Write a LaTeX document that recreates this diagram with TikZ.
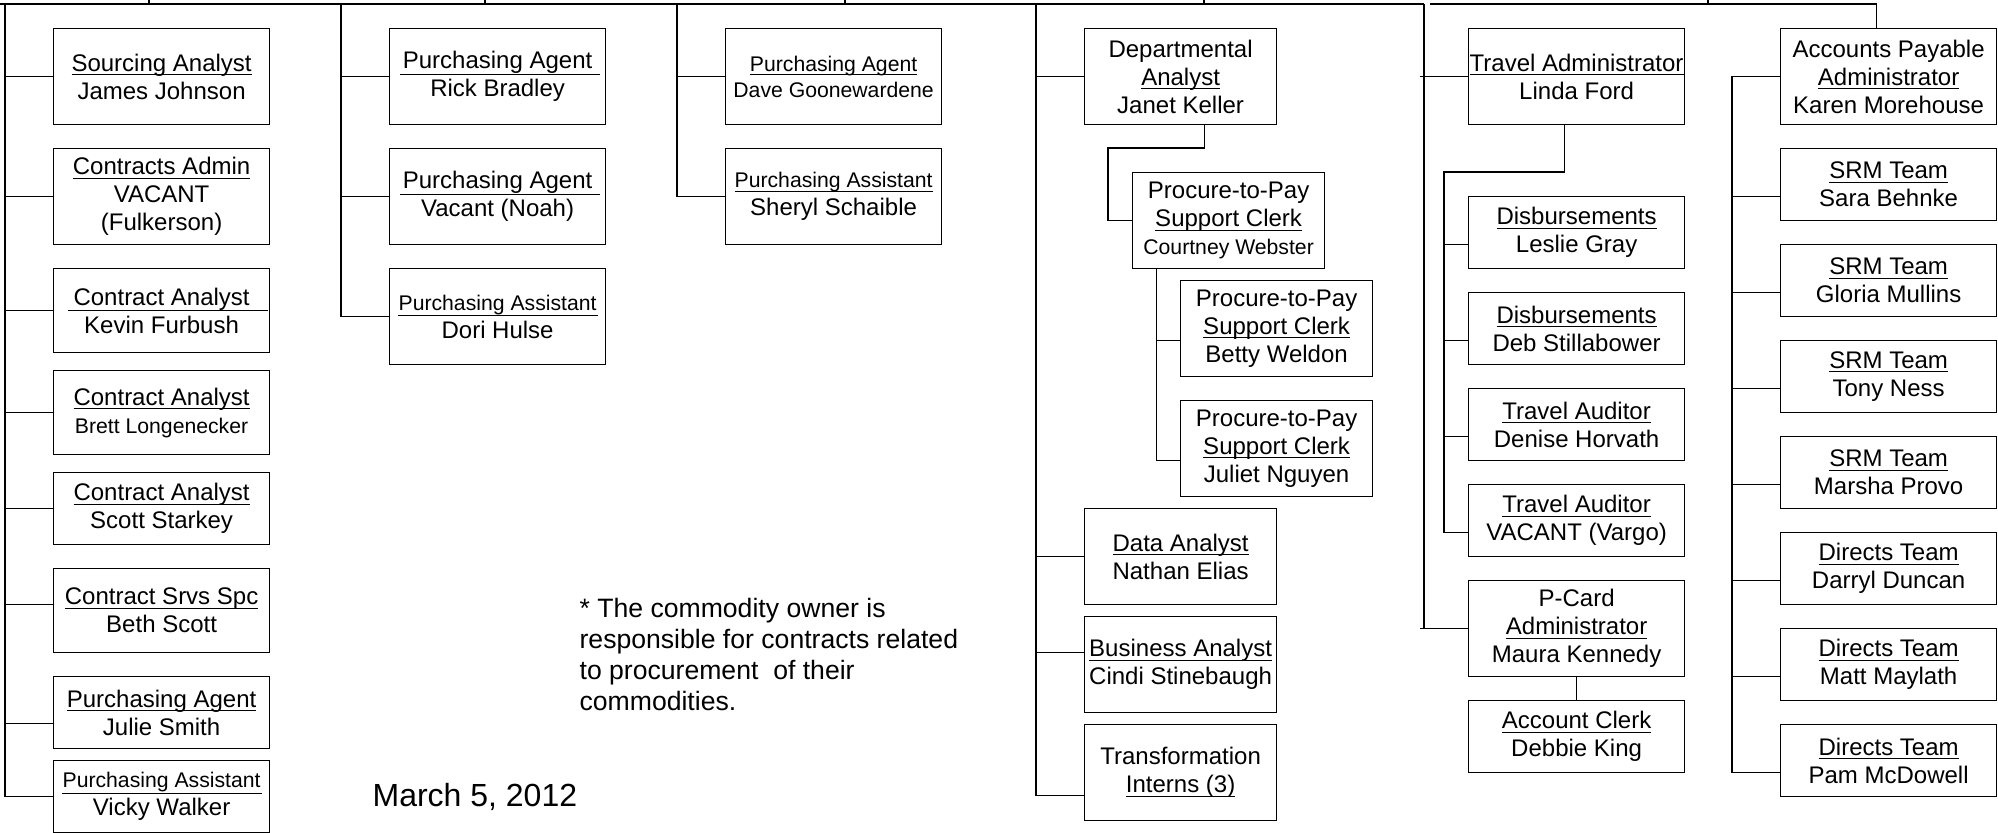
\documentclass[tikz,border=0pt]{standalone}
\usepackage{fontspec}
\setmainfont{Liberation Sans}
\newcommand{\ttl}[1]{\setbox0=\hbox{#1}\rlap{\rule[-2pt]{\wd0}{0.5pt}}\box0}
\newcommand{\wttl}[1]{\makebox[100pt]{\rlap{\rule[-3pt]{100pt}{0.5pt}}\hfil#1\hfil}}
\newcommand{\sm}{\fontsize{10.6}{13}\selectfont}
\begin{document}
\begin{tikzpicture}[x=0.5pt,y=-0.5pt,line width=0.6pt]
\tikzstyle{every node}+=[inner sep=0pt]
\tikzstyle{box}=[draw, anchor=north west, align=center, font=\fontsize{12}{14}\selectfont]
\tikzstyle{wide}=[box, minimum width=108pt]
\tikzstyle{narrow}=[box, minimum width=96pt]
\useasboundingbox (0,0) rectangle (1998,833);
% column 1
\node [wide, minimum height=48pt] (b11) at (53,28) {\ttl{Sourcing Analyst}\\James Johnson};
\node [wide, minimum height=48pt] (b12) at (53,148) {\ttl{Contracts Admin}\\VACANT\\(Fulkerson)};
\node [wide, minimum height=42pt] (b13) at (53,268) {\wttl{Contract Analyst}\\Kevin Furbush};
\node [wide, minimum height=42pt] (b14) at (53,370) {\ttl{Contract Analyst}\\{\sm Brett Longenecker}};
\node [wide, minimum height=36pt] (b15) at (53,472) {\ttl{Contract Analyst}\\Scott Starkey};
\node [wide, minimum height=42pt] (b16) at (53,568) {\ttl{Contract Srvs Spc}\\Beth Scott};
\node [wide, minimum height=36pt] (b17) at (53,676) {\ttl{Purchasing Agent}\\Julie Smith};
\node [wide, minimum height=36pt] (b18) at (53,760) {\wttl{\sm Purchasing Assistant}\\Vicky Walker};
% column 2
\node [wide, minimum height=48pt] (b21) at (389,28) {\wttl{Purchasing Agent}\\Rick Bradley};
\node [wide, minimum height=48pt] (b22) at (389,148) {\wttl{Purchasing Agent}\\Vacant (Noah)};
\node [wide, minimum height=48pt] (b23) at (389,268) {\wttl{\sm Purchasing Assistant}\\Dori Hulse};
% column 3
\node [wide, minimum height=48pt, font=\sm] (b31) at (725,28) {\ttl{Purchasing Agent}\\Dave Goonewardene};
\node [wide, minimum height=48pt] (b32) at (725,148) {\ttl{\sm Purchasing Assistant}\\Sheryl Schaible};
% column 4
\node [narrow, minimum height=48pt] (b41) at (1084,28) {Departmental\\\ttl{Analyst}\\Janet Keller};
\node [narrow, minimum height=48pt] (b42) at (1132,172) {Procure-to-Pay\\\ttl{Support Clerk}\\{\sm Courtney Webster}};
\node [narrow, minimum height=48pt] (b43) at (1180,280) {Procure-to-Pay\\\ttl{Support Clerk}\\Betty Weldon};
\node [narrow, minimum height=48pt] (b44) at (1180,400) {Procure-to-Pay\\\ttl{Support Clerk}\\Juliet Nguyen};
\node [narrow, minimum height=48pt] (b45) at (1084,508) {\ttl{Data Analyst}\\Nathan Elias};
\node [narrow, minimum height=48pt] (b46) at (1084,616) {\ttl{Business Analyst}\\Cindi Stinebaugh};
\node [narrow, minimum height=48pt] (b47) at (1084,724) {Transformation\\\ttl{Interns (3)}};
% column 5
\node [wide, minimum height=48pt] (b51) at (1468,28) {\ttl{Travel Administrator}\\Linda Ford};
\node [wide, minimum height=36pt] (b52) at (1468,196) {\ttl{Disbursements}\\Leslie Gray};
\node [wide, minimum height=36pt] (b53) at (1468,292) {\ttl{Disbursements}\\Deb Stillabower};
\node [wide, minimum height=36pt] (b54) at (1468,388) {\ttl{Travel Auditor}\\Denise Horvath};
\node [wide, minimum height=36pt] (b55) at (1468,484) {\ttl{Travel Auditor}\\VACANT (Vargo)};
\node [wide, minimum height=48pt] (b56) at (1468,580) {P-Card\\\ttl{Administrator}\\Maura Kennedy};
\node [wide, minimum height=36pt] (b57) at (1468,700) {\ttl{Account Clerk}\\Debbie King};
% column 6
\node [wide, minimum height=48pt] (b61) at (1780,28) {Accounts Payable\\\ttl{Administrator}\\Karen Morehouse};
\node [wide, minimum height=36pt] (b62) at (1780,148) {\ttl{SRM Team}\\Sara Behnke};
\node [wide, minimum height=36pt] (b63) at (1780,244) {\ttl{SRM Team}\\Gloria Mullins};
\node [wide, minimum height=36pt] (b64) at (1780,340) {\ttl{SRM Team}\\Tony Ness};
\node [wide, minimum height=36pt] (b65) at (1780,436) {\ttl{SRM Team}\\Marsha Provo};
\node [wide, minimum height=36pt] (b66) at (1780,532) {\ttl{Directs Team}\\Darryl Duncan};
\node [wide, minimum height=36pt] (b67) at (1780,628) {\ttl{Directs Team}\\Matt Maylath};
\node [wide, minimum height=36pt] (b68) at (1780,724) {\ttl{Directs Team}\\Pam McDowell};
% notes
\node [anchor=north west, align=left, font=\fontsize{13.3}{15.5}\selectfont] (note) at (579,598) {* The commodity owner is\\responsible for contracts related\\to procurement \ of their\\commodities.};
\node [anchor=west, font=\fontsize{16}{19}\selectfont] (date) at (372,797) {March 5, 2012};
% top bar
\coordinate (e0) at (0,4);
\coordinate (c1) at (5,4);
\coordinate (c2) at (341,4);
\coordinate (c3) at (677,4);
\coordinate (c4) at (1036,4);
\coordinate (c5) at (1424,4);
\coordinate (c6) at (1430,4);
\coordinate (u1) at (149,0);
\coordinate (u2) at (485,0);
\coordinate (u3) at (845,0);
\coordinate (u4) at (1204,0);
\coordinate (u5) at (1708,0);
\draw [black] (e0) -- (c5);
\draw [black] (u1) -- (u1 |- e0);
\draw [black] (u2) -- (u2 |- e0);
\draw [black] (u3) -- (u3 |- e0);
\draw [black] (u4) -- (u4 |- e0);
\draw [black] (u5) -- (u5 |- e0);
% column 1 lines
\draw [black] (c1) -- (c1 |- b18.west);
\draw [black] (c1 |- b11.west) -- (b11.west);
\draw [black] (c1 |- b12.west) -- (b12.west);
\draw [black] (c1 |- b13.west) -- (b13.west);
\draw [black] (c1 |- b14.west) -- (b14.west);
\draw [black] (c1 |- b15.west) -- (b15.west);
\draw [black] ([yshift=3pt]c1 |- b16.west) -- ([yshift=3pt]b16.west);
\draw [black] ([yshift=-5.5pt]c1 |- b17.west) -- ([yshift=-5.5pt]b17.west);
\draw [black] (c1 |- b18.west) -- (b18.west);
% column 2 lines
\draw [black] (c2) -- (c2 |- b23.west);
\draw [black] (c2 |- b21.west) -- (b21.west);
\draw [black] (c2 |- b22.west) -- (b22.west);
\draw [black] (c2 |- b23.west) -- (b23.west);
% column 3 lines
\draw [black] (c3) -- (c3 |- b32.west);
\draw [black] (c3 |- b31.west) -- (b31.west);
\draw [black] (c3 |- b32.west) -- (b32.west);
% column 4 lines
\draw [black] (c4) -- ([yshift=-11.5pt]c4 |- b47.west);
\draw [black] (c4 |- b41.west) -- (b41.west);
\draw [black] (c4 |- b45.west) -- (b45.west);
\draw [black] ([yshift=6pt]c4 |- b46.west) -- ([yshift=6pt]b46.west);
\draw [black] ([yshift=-11.5pt]c4 |- b47.west) -- ([yshift=-11.5pt]b47.west);
\coordinate (k1) at (1108,148);
\draw [black] ([xshift=12pt]b41.south) |- (k1) |- (b42.west);
\coordinate (k2) at ([xshift=-36pt]b42.south);
\draw [black] (k2) |- ([yshift=-6pt]b44.west);
\draw [black] ([yshift=-6pt]k2 |- b43.west) -- ([yshift=-6pt]b43.west);
% column 5 lines
\draw [black] (c5) -- (c5 |- b56.west);
\draw [black] ([xshift=-2pt]c5 |- b51.west) -- (b51.west);
\draw [black] ([xshift=-2pt]c5 |- b56.west) -- (b56.west);
\coordinate (k3) at (1444,172);
\draw [black] ([xshift=-6pt]b51.south) |- (k3) |- ([yshift=-6pt]b55.west);
\draw [black] ([yshift=-6pt]k3 |- b52.west) -- ([yshift=-6pt]b52.west);
\draw [black] ([yshift=-6pt]k3 |- b53.west) -- ([yshift=-6pt]b53.west);
\draw [black] ([yshift=-6pt]k3 |- b54.west) -- ([yshift=-6pt]b54.west);
\draw [black] (b56.south) -- (b57.north);
% column 6 lines
\draw [black] (c6) -| ([xshift=-6pt]b61.north);
\coordinate (k4) at ([xshift=-24pt]b61.west);
\draw [black] (b61.west) -- (k4) |- ([yshift=-6pt]b68.west);
\draw [black] ([yshift=-6pt]k4 |- b62.west) -- ([yshift=-6pt]b62.west);
\draw [black] ([yshift=-6pt]k4 |- b63.west) -- ([yshift=-6pt]b63.west);
\draw [black] ([yshift=-6pt]k4 |- b64.west) -- ([yshift=-6pt]b64.west);
\draw [black] ([yshift=-6pt]k4 |- b65.west) -- ([yshift=-6pt]b65.west);
\draw [black] ([yshift=-6pt]k4 |- b66.west) -- ([yshift=-6pt]b66.west);
\draw [black] ([yshift=-6pt]k4 |- b67.west) -- ([yshift=-6pt]b67.west);
\end{tikzpicture}
\end{document}
